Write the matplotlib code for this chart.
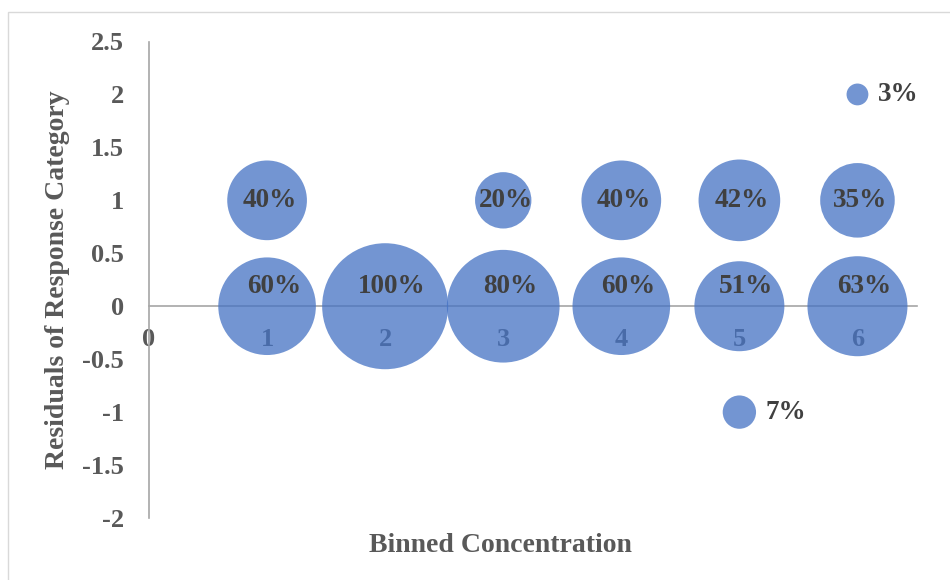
import matplotlib.pyplot as plt
from matplotlib.patches import Rectangle

# binned concentration (x), residual category (y) and share of samples in each cell
bins = [1, 1, 2, 3, 3, 4, 4, 5, 5, 5, 6, 6, 6]
residuals = [0, 1, 0, 0, 1, 0, 1, 0, 1, -1, 0, 1, 2]
shares = [60, 40, 100, 80, 20, 60, 40, 51, 42, 7, 63, 35, 3]

x_ticks = [0, 1, 2, 3, 4, 5, 6]
y_ticks = [-2, -1.5, -1, -0.5, 0, 0.5, 1, 1.5, 2, 2.5]
y_tick_labels = ['-2', '-1.5', '-1', '-0.5', '0', '0.5', '1', '1.5', '2', '2.5']

plt.rcParams['font.family'] = ['Liberation Serif', 'DejaVu Serif']
plt.rcParams['font.weight'] = 'bold'
plt.rcParams['axes.unicode_minus'] = False

GREY = '#595959'
LABEL = '#404040'
BLUE = '#4472C4'

fig = plt.figure(figsize=(9.5, 5.8), dpi=100, facecolor='white')
# chart border
fig.patches.append(Rectangle((8 / 950, -0.1), 1.2, 1 - 12 / 580 + 0.1,
                             transform=fig.transFigure, fill=False,
                             edgecolor='#d9d9d9', linewidth=1))

ax = fig.add_axes([149 / 950, 1 - 518 / 580, 767.5 / 950, 476.5 / 580])
ax.set_xlim(0, 6.5)
ax.set_ylim(-2, 2.5)

# bubble area proportional to share (100% -> ~63 px radius)
s_full = (2 * 63 * 0.72) ** 2
ax.scatter(bins, residuals, s=[v / 100 * s_full for v in shares],
           color=BLUE, alpha=0.75, edgecolors='none', zorder=3)

for x, y, v in zip(bins, residuals, shares):
    txt = f'{v}%'
    if y == 0:
        ax.annotate(txt, (x, y), xytext=(5, 14), textcoords='offset points',
                    ha='center', va='center', fontsize=19.5, color=LABEL, zorder=4)
    elif v < 10:
        r_pt = (v / 100 * s_full) ** 0.5 / 2
        ax.annotate(txt, (x, y), xytext=(r_pt + 7, 0), textcoords='offset points',
                    ha='left', va='center', fontsize=19.5, color=LABEL, zorder=4)
    else:
        ax.annotate(txt, (x, y), xytext=(2, 0), textcoords='offset points',
                    ha='center', va='center', fontsize=19.5, color=LABEL, zorder=4)

# axes cross at zero
for side in ['top', 'right']:
    ax.spines[side].set_visible(False)
ax.spines['bottom'].set_position(('data', 0))
ax.spines['bottom'].set_bounds(0, 6.5)
ax.spines['left'].set_bounds(-2, 2.5)
for side in ['bottom', 'left']:
    ax.spines[side].set_color('#a6a6a6')
    ax.spines[side].set_linewidth(1.2)

ax.set_xticks(x_ticks)
ax.set_xticklabels([str(t) for t in x_ticks])
ax.set_yticks(y_ticks)
ax.set_yticklabels(y_tick_labels)
ax.tick_params(axis='x', length=0, pad=16, labelsize=19, labelcolor=GREY)
ax.tick_params(axis='y', length=0, pad=18, labelsize=19, labelcolor=GREY)

fig.text(58 / 950, 1 - 280 / 580, 'Residuals of Response Category', rotation=90,
         ha='center', va='center', fontsize=20, color=GREY)
fig.text(500 / 950, 1 - 546 / 580, 'Binned Concentration',
         ha='center', va='center', fontsize=20, color=GREY)

fig.savefig('out.png', dpi=100, facecolor='white')
